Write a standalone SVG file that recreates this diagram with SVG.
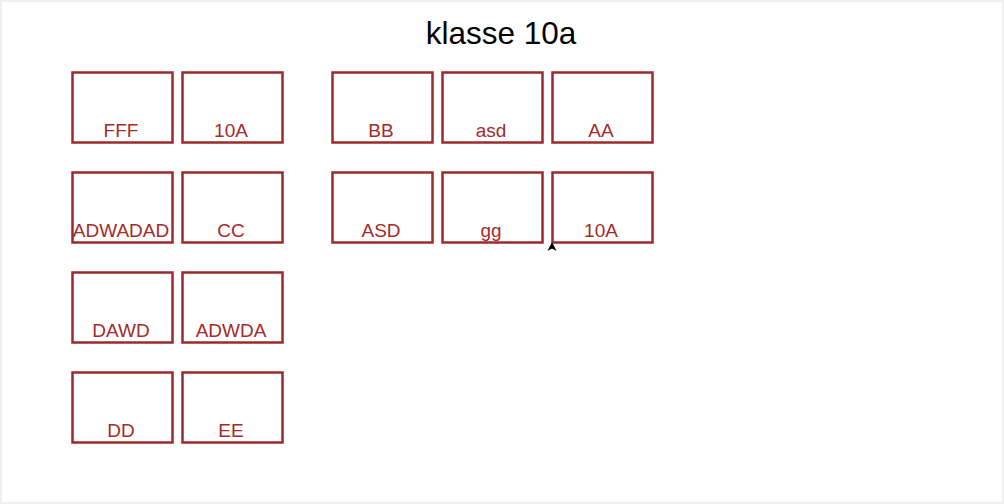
<svg xmlns="http://www.w3.org/2000/svg" width="1004" height="504" viewBox="0 0 1004 504">
<style>
.box rect{fill:#ffffff;stroke:#9c2a2b;stroke-width:2.5}
.box text{font-family:"Liberation Sans",Arial,sans-serif;font-size:19px;fill:#a52a2a;text-anchor:middle}
.title{font-family:"Liberation Sans",Arial,sans-serif;font-size:31.5px;fill:#000;text-anchor:middle}
</style>
<rect x="0" y="0" width="1004" height="504" fill="#efefef"/>
<rect x="2" y="2" width="1000" height="500" fill="#ffffff"/>
<text class="title" x="501" y="44">klasse 10a</text>
<g id="n-fff" class="box"><rect x="72.5" y="72.5" width="100" height="70"/><text x="121" y="137">FFF</text></g>
<g id="n-10a-1" class="box"><rect x="182.5" y="72.5" width="100" height="70"/><text x="231" y="137">10A</text></g>
<g id="n-bb" class="box"><rect x="332.5" y="72.5" width="100" height="70"/><text x="381" y="137">BB</text></g>
<g id="n-asd" class="box"><rect x="442.5" y="72.5" width="100" height="70"/><text x="491" y="137">asd</text></g>
<g id="n-aa" class="box"><rect x="552.5" y="72.5" width="100" height="70"/><text x="601" y="137">AA</text></g>
<g id="n-adwadad" class="box"><rect x="72.5" y="172.5" width="100" height="70"/><text x="121" y="237">ADWADAD</text></g>
<g id="n-cc" class="box"><rect x="182.5" y="172.5" width="100" height="70"/><text x="231" y="237">CC</text></g>
<g id="n-asd2" class="box"><rect x="332.5" y="172.5" width="100" height="70"/><text x="381" y="237">ASD</text></g>
<g id="n-gg" class="box"><rect x="442.5" y="172.5" width="100" height="70"/><text x="491" y="237">gg</text></g>
<g id="n-10a-2" class="box"><rect x="552.5" y="172.5" width="100" height="70"/><text x="601" y="237">10A</text></g>
<g id="n-dawd" class="box"><rect x="72.5" y="272.5" width="100" height="70"/><text x="121" y="337">DAWD</text></g>
<g id="n-adwda" class="box"><rect x="182.5" y="272.5" width="100" height="70"/><text x="231" y="337">ADWDA</text></g>
<g id="n-dd" class="box"><rect x="72.5" y="372.5" width="100" height="70"/><text x="121" y="437">DD</text></g>
<g id="n-ee" class="box"><rect x="182.5" y="372.5" width="100" height="70"/><text x="231" y="437">EE</text></g>
<g id="connectors">
<polygon points="552,242 556.5,251 552,248.5 547.5,251" fill="#000"/>
</g>
</svg>
